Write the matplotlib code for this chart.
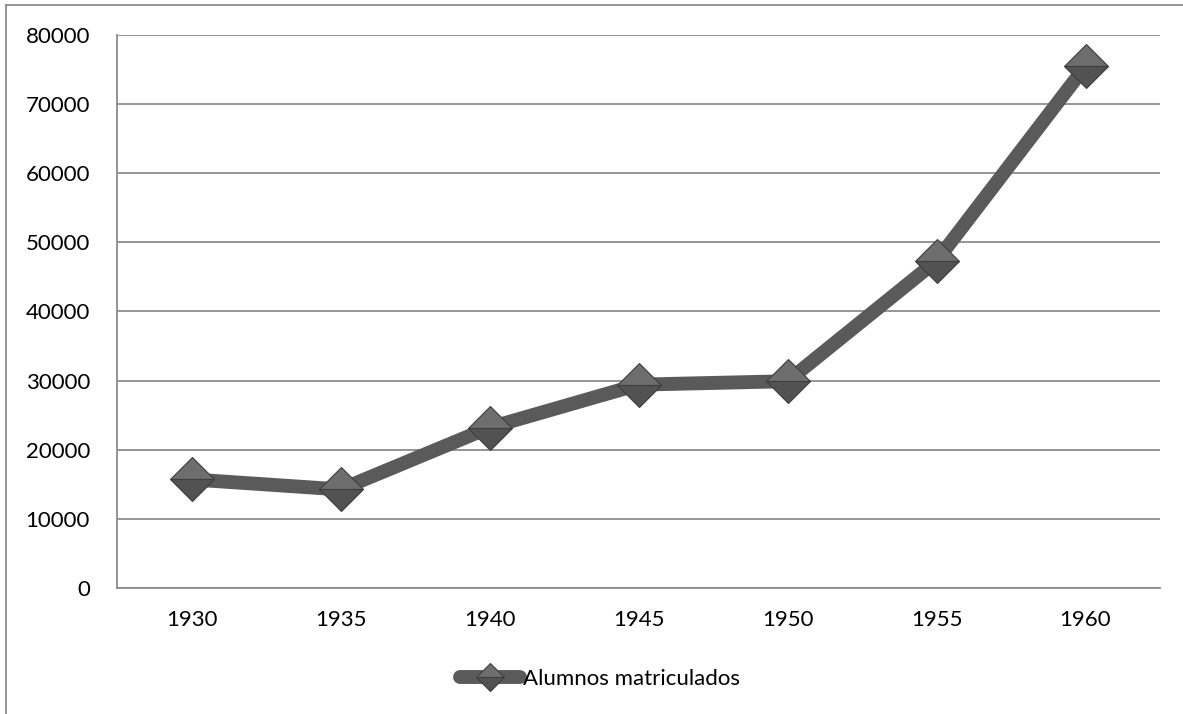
"""Alumnos matriculados, 1930-1960 — line chart in the old Excel look."""
import matplotlib
matplotlib.use("Agg")
import matplotlib.pyplot as plt
from matplotlib.lines import Line2D

years = ["1930", "1935", "1940", "1945", "1950", "1955", "1960"]
alumnos = [15700, 14250, 23200, 29400, 29900, 47300, 75450]
y_ticks = [0, 10000, 20000, 30000, 40000, 50000, 60000, 70000, 80000]
series_label = "Alumnos matriculados"

LINE, GRID, INK = "#5a5a5a", "#8c8c8c", "#000000"

plt.rcParams["font.family"] = ["Lato", "DejaVu Sans"]

fig = plt.figure(figsize=(11.83, 7.14), dpi=100)
ax = fig.add_axes([117 / 1183, 1 - 588 / 714, 1043 / 1183, (588 - 34.7) / 714])

x = list(range(len(years)))
ax.plot(x, alumnos, color=LINE, linewidth=10, solid_capstyle="round",
        solid_joinstyle="round", marker="D", markersize=22,
        fillstyle="top", markerfacecolor="#6e6e6e",
        markerfacecoloralt="#525252", markeredgecolor="#3e3e3e",
        markeredgewidth=0.8, zorder=3, label=series_label)

ax.set_xlim(-0.5, len(years) - 0.5)
ax.set_ylim(0, 80000)
ax.set_xticks(x)
ax.set_xticklabels(years)
ax.set_yticks(y_ticks)
ax.set_yticklabels([str(v) for v in y_ticks])
ax.tick_params(length=0, labelsize=16, colors=INK)
ax.tick_params(axis="y", pad=19.5)
ax.tick_params(axis="x", pad=16)

ax.grid(axis="y", color=GRID, linewidth=1.3, zorder=0)
ax.set_axisbelow(True)
for spine in ["top", "right"]:
    ax.spines[spine].set_visible(False)
for spine in ["left", "bottom"]:
    ax.spines[spine].set_color(GRID)
    ax.spines[spine].set_linewidth(1.3)

# chart-area frame, cut off at the right and bottom edges of the image
fig.add_artist(Line2D([6 / 1183, 6 / 1183], [1 - 5 / 714, 0],
                      color=GRID, linewidth=1.3))
fig.add_artist(Line2D([6 / 1183, 1], [1 - 5 / 714, 1 - 5 / 714],
                      color=GRID, linewidth=1.3))

fig.legend(loc="center", bbox_to_anchor=(600 / 1183, 1 - 679 / 714),
           frameon=False, fontsize=16, handlelength=2.7,
           handletextpad=0.1, markerscale=0.65)

fig.savefig("out.png", dpi=100, facecolor="white")
